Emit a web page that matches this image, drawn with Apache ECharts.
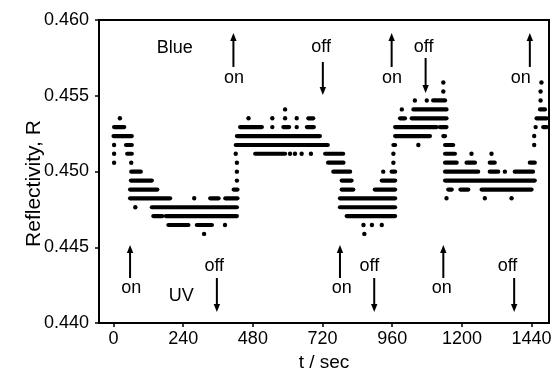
<!DOCTYPE html>
<html><head><meta charset="utf-8">
<script src="https://cdn.jsdelivr.net/npm/echarts@6/dist/echarts.min.js"></script>
<style>html,body{margin:0;padding:0;background:#fff}#c{width:555px;height:375px}</style>
</head><body><div id="c"></div>
<script>
// Quantized reflectivity levels
const levelValues = [0.44588,0.44647,0.44706,0.44764,0.44823,0.44881,0.44940,0.44999,0.45058,0.45117,0.45175,0.45234,0.45293,0.45351,0.45410,0.45469,0.45528,0.45587];
// Runs of dots at each level: [tStart, tEnd] in seconds
const runsByLevel = [
  [[312,312],[864,864]],
  [[189,258],[287,339],[384,384],[861,861],[890,890],[924,924]],
  [[137,168],[180,425],[803,970]],
  [[75,75],[132,425],[780,970]],
  [[57,195],[278,278],[333,362],[385,427],[780,970],[1147,1147],[1279,1279],[1371,1371]],
  [[57,151],[414,427],[786,826],[900,970],[1153,1165],[1195,1222],[1268,1440]],
  [[60,132],[425,425],[786,820],[924,970],[1142,1451]],
  [[61,94],[425,425],[757,815],[929,929],[958,970],[1142,1256],[1296,1325],[1348,1348],[1382,1445]],
  [[2,2],[61,61],[425,425],[739,792],[964,964],[1142,1182],[1216,1245],[1296,1313],[1434,1451]],
  [[2,2],[47,63],[421,421],[488,591],[608,608],[625,625],[648,648],[680,680],[729,791],[964,964],[1142,1176],[1233,1233],[1302,1302]],
  [[2,2],[43,63],[421,738],[964,970],[1050,1050],[1142,1170],[1449,1449]],
  [[0,63],[425,711],[970,1090],[1136,1142],[1449,1449]],
  [[2,37],[436,511],[547,547],[585,605],[631,631],[666,690],[970,1113],[1124,1147],[1454,1454],[1480,1492]],
  [[22,22],[465,465],[547,547],[591,591],[631,631],[671,688],[987,1004],[1027,1147],[1457,1492]],
  [[591,591],[993,993],[1033,1147],[1469,1486]],
  [[1038,1038],[1079,1079],[1101,1142],[1471,1471]],
  [[1136,1136],[1471,1471]],
  [[1136,1136],[1474,1474]]
];
const xTicks = [0,240,480,720,960,1200,1440];
const yTicks = [0.440,0.445,0.450,0.455,0.460];
// Annotation texts: [label, t, R]
const labels = [
  ['Blue',211,0.45812],
  ['on',415,0.45617],['off',715,0.45822],['on',959,0.45617],['off',1068,0.45822],['on',1403,0.45617],
  ['on',61,0.44228],['UV',233,0.44175],['off',347,0.44373],['on',786,0.44228],['off',881,0.44373],['on',1131,0.44228],['off',1357,0.44373]
];
// Arrows: [t, R tail, R head]
const arrows = [
  [413,0.45690,0.45914],[721,0.45723,0.45505],[958,0.45690,0.45914],[1075,0.45749,0.45518],[1434,0.45690,0.45914],
  [57,0.44297,0.44515],[356,0.44297,0.44073],[780,0.44297,0.44515],[898,0.44297,0.44073],[1136,0.44297,0.44515],[1380,0.44297,0.44073]
];

const runData = [];
runsByLevel.forEach((runs,k)=>runs.forEach(r=>runData.push([r[0],r[1],levelValues[k]])));

const FONT = 'Liberation Sans';
const chart = echarts.init(document.getElementById('c'));
chart.setOption({
  animation:false,
  backgroundColor:'#fff',
  grid:{left:99,top:20,right:6,bottom:52,containLabel:false,outerBoundsMode:'none',show:true,borderColor:'#000',borderWidth:2,backgroundColor:'transparent'},
  xAxis:{type:'value',min:-50,max:1500,
    name:'t / sec',nameLocation:'middle',nameGap:30,nameMoveOverlap:false,nameTextStyle:{fontFamily:FONT,fontSize:19,color:'#000'},
    axisLine:{show:true,onZero:false,lineStyle:{color:'#000',width:2}},
    axisTick:{show:true,length:4,customValues:xTicks,lineStyle:{color:'#000',width:1.5}},
    axisLabel:{customValues:xTicks,margin:7,fontFamily:FONT,fontSize:18,color:'#000',formatter:v=>String(v)},
    splitLine:{show:false}},
  yAxis:{type:'value',min:0.44,max:0.46,interval:0.005,
    name:'Reflectivity, R',nameLocation:'middle',nameGap:54,nameMoveOverlap:false,nameTextStyle:{fontFamily:FONT,fontSize:21,color:'#000',padding:[0,24,0,0]},
    axisLine:{show:true,onZero:false,lineStyle:{color:'#000',width:2}},
    axisTick:{show:true,length:4,lineStyle:{color:'#000',width:1.5}},
    axisLabel:{margin:10,fontFamily:FONT,fontSize:18,color:'#000',formatter:v=>v.toFixed(3)},
    splitLine:{show:false}},
  series:[{
    type:'custom',
    data:runData,
    encode:{x:[0,1],y:2},
    renderItem:function(params,api){
      const p1=api.coord([api.value(0),api.value(2)]);
      const p2=api.coord([api.value(1),api.value(2)]);
      if(p2[0]-p1[0]<1){
        return {type:'circle',shape:{cx:p1[0],cy:p1[1],r:2.2},style:{fill:'#000'}};
      }
      return {type:'line',shape:{x1:p1[0],y1:p1[1],x2:p2[0],y2:p2[1]},style:{stroke:'#000',lineWidth:4.2,lineCap:'round'}};
    }
  }]
});

const g=[];
labels.forEach(l=>{
  const p=chart.convertToPixel({gridIndex:0},[l[1],l[2]]);
  g.push({type:'text',x:p[0],y:p[1],style:{text:l[0],fontFamily:FONT,fontSize:18,fill:'#000',align:'center',verticalAlign:'middle'}});
});
arrows.forEach(a=>{
  const p1=chart.convertToPixel({gridIndex:0},[a[0],a[1]]);
  const p2=chart.convertToPixel({gridIndex:0},[a[0],a[2]]);
  const dir=p2[1]<p1[1]?-1:1;
  const L=8, W=3.2;
  g.push({type:'line',shape:{x1:p1[0],y1:p1[1],x2:p2[0],y2:p2[1]-dir*L*0.6},style:{stroke:'#000',lineWidth:2}});
  g.push({type:'polygon',shape:{points:[[p2[0],p2[1]],[p2[0]-W,p2[1]-dir*L],[p2[0]+W,p2[1]-dir*L]]},style:{fill:'#000'}});
});
chart.setOption({graphic:g});
</script>
</body></html>
